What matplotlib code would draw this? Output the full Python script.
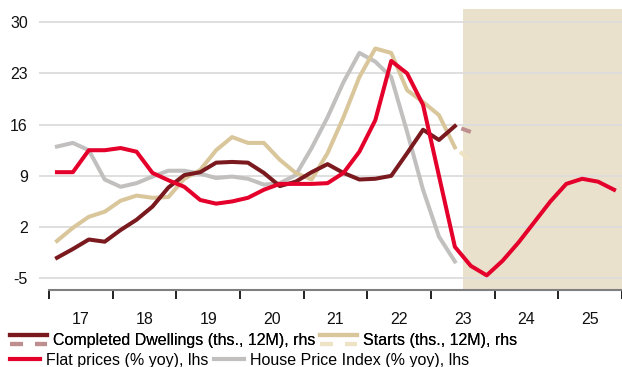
import numpy as np
import matplotlib
matplotlib.use("Agg")
import matplotlib.pyplot as plt
from matplotlib.lines import Line2D
from matplotlib.legend_handler import HandlerBase

plt.rcParams['font.family'] = ['Liberation Sans', 'DejaVu Sans']

# quarterly data, Q1 2017 .. Q2 2023 (history), forecast for flat prices to Q4 2025
flat_prices = [9.5, 9.5, 12.5, 12.5, 12.8, 12.3, 9.4, 8.4,
               7.5, 5.7, 5.2, 5.5, 6.0, 7.1, 7.9, 7.9,
               7.9, 8.0, 9.4, 12.3, 16.6, 24.7, 23.0, 18.7,
               9.0, -0.7,
               -3.3, -4.6, -2.6, -0.1, 2.7, 5.5, 7.9, 8.6, 8.2, 7.1]
house_price_index = [13.0, 13.5, 12.5, 8.5, 7.5, 8.0, 8.9, 9.7,
                     9.7, 9.3, 8.7, 8.9, 8.6, 7.8, 8.0, 9.1,
                     12.8, 17.0, 21.8, 25.8, 24.6, 22.5, 15.0, 7.1,
                     0.7, -2.7]
completed = [-2.2, -1.0, 0.3, 0.0, 1.6, 3.0, 4.8, 7.4,
             9.1, 9.5, 10.8, 10.9, 10.8, 9.4, 7.6, 8.2,
             9.5, 10.6, 9.4, 8.5, 8.6, 9.0, 12.1, 15.3,
             13.9, 15.8]
completed_fc = [15.8, 15.0]
starts = [0.1, 1.9, 3.4, 4.1, 5.6, 6.3, 6.0, 6.1,
          8.6, 9.8, 12.5, 14.3, 13.5, 13.5, 11.2, 9.4,
          8.5, 12.1, 17.0, 22.5, 26.4, 25.8, 20.7, 19.1,
          17.3, 12.9]
starts_fc = [12.9, 11.0]
year_labels = ['17', '18', '19', '20', '21', '22', '23', '24', '25']
y_ticks = [-5, 2, 9, 16, 23, 30]
forecast_start = 2023.5

RED = '#e4002b'
DARK = '#7a1a1e'
TAN = '#d9c69b'
GRAY = '#c2bfbf'
DARK_FC = '#bf8e8e'
TAN_FC = '#efe3c6'
SHADE = '#e9e1cc'

q = 2017 + (np.arange(len(flat_prices)) + 0.5) / 4
q_fc = q[len(completed) - 1:len(completed) + 1]

fig = plt.figure(figsize=(6.22, 3.67), dpi=100)
ax = fig.add_axes([39 / 622, 77 / 367, 583 / 622, 281 / 367])

ax.axvspan(forecast_start, 2026, color=SHADE, lw=0, zorder=0.2)

lw = 2.9
ax.plot(q[:len(house_price_index)], house_price_index, color=GRAY, lw=lw, zorder=2)
ax.plot(q[:len(starts)], starts, color=TAN, lw=lw, zorder=3)
ax.plot(q_fc, starts_fc, color=TAN_FC, lw=lw, linestyle=(2.9, (2.9, 1.7)), zorder=3)
ax.plot(q[:len(completed)], completed, color=DARK, lw=lw, zorder=4)
ax.plot(q_fc, completed_fc, color=DARK_FC, lw=lw, linestyle=(2.9, (2.9, 1.7)), zorder=4)
ax.plot(q, flat_prices, color=RED, lw=lw, zorder=5)

ax.set_xlim(2017 - 10 / 63.67, 2026)
ax.set_ylim(-6.6, 31.8)

ax.set_yticks(y_ticks)
ax.set_yticklabels([str(v) for v in y_ticks])
ax.grid(axis='y', color='#dcdcdc', lw=1.3, zorder=0.5)
ax.tick_params(axis='y', length=0, pad=8, labelsize=11.5, labelcolor='#111111')

ax.set_xticks(np.arange(2017, 2027))
ax.set_xticklabels([])
ax.set_xticks(np.arange(2017, 2026) + 0.5, minor=True)
ax.set_xticklabels(year_labels, minor=True)
ax.tick_params(axis='x', which='major', length=6.5, width=1.3, color='#111111', direction='out')
ax.tick_params(axis='x', which='minor', length=0, pad=15.9, labelsize=11.5, labelcolor='#111111')

for s in ['top', 'right', 'left']:
    ax.spines[s].set_visible(False)
ax.spines['bottom'].set_color('#7f7f7f')
ax.spines['bottom'].set_linewidth(1.5)
ax.spines['bottom'].set_bounds(2017, 2026)


class TwoLineHandler(HandlerBase):
    def create_artists(self, legend, orig_handle, xdescent, ydescent,
                       width, height, fontsize, trans):
        out = []
        for src, yf in zip(orig_handle, (0.9, 0.1)):
            ln = Line2D([-xdescent, -xdescent + width], [height * yf - ydescent] * 2)
            ln.update_from(src)
            ln.set_transform(trans)
            out.append(ln)
        return out


h_completed = (Line2D([], [], color=DARK, lw=3),
               Line2D([], [], color=DARK_FC, lw=3, linestyle=(0, (3.1, 2.9))))
h_starts = (Line2D([], [], color=TAN, lw=3),
            Line2D([], [], color=TAN_FC, lw=3, linestyle=(0, (3.1, 2.9))))

leg1 = fig.legend([h_completed, h_starts],
                  ['Completed Dwellings (ths., 12M), rhs', 'Starts (ths., 12M), rhs'],
                  handler_map={tuple: TwoLineHandler()},
                  loc='center left', bbox_to_anchor=(10 / 622, 0.0716), ncol=2,
                  frameon=False, fontsize=11.5, borderpad=0, borderaxespad=0,
                  handlelength=2.3, handletextpad=0.38, columnspacing=0.3)
fig.add_artist(leg1)

h_flat = Line2D([], [], color=RED, lw=3)
h_hpi = Line2D([], [], color=GRAY, lw=3)
fig.legend([h_flat, h_hpi],
           ['Flat prices (% yoy), lhs', 'House Price Index (% yoy), lhs'],
           loc='center left', bbox_to_anchor=(10 / 622, 0.0186), ncol=2,
           frameon=False, fontsize=11.5, borderpad=0, borderaxespad=0,
           handlelength=1.9, handletextpad=0.38, columnspacing=0.3)

fig.savefig('out.png', dpi=100)
